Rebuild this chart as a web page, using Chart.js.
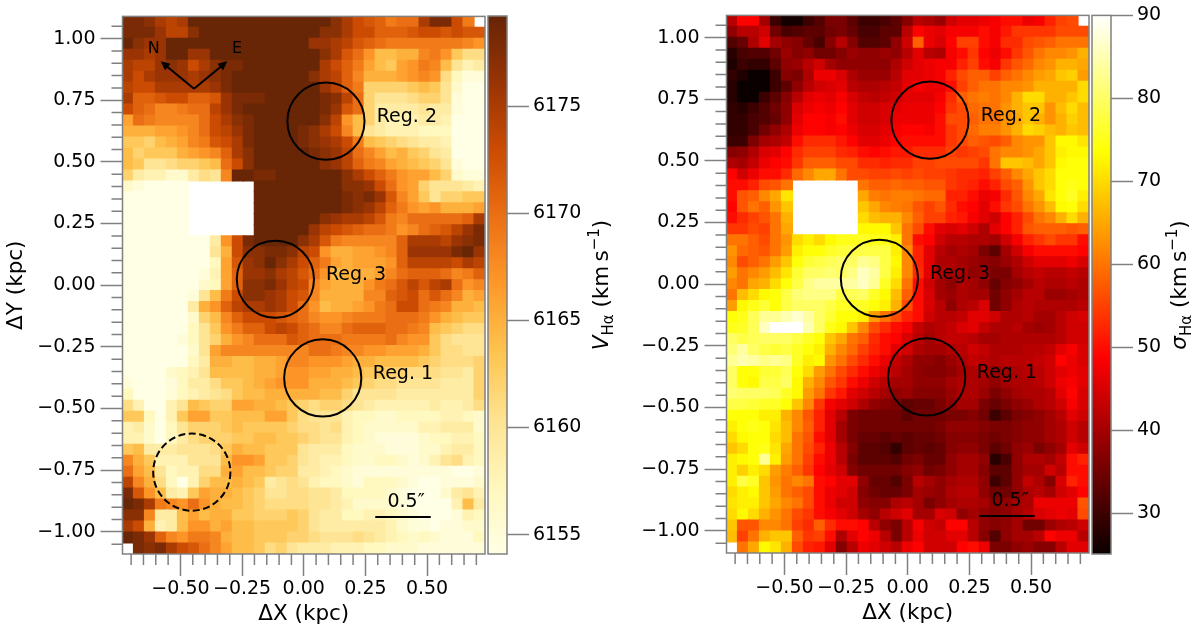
<!DOCTYPE html>
<html>
<head>
<meta charset="utf-8">
<title>Halpha velocity and dispersion maps</title>
<script src="https://cdn.jsdelivr.net/npm/chart.js@4"></script>
<style>
    html, body { margin: 0; padding: 0; background: white; overflow: hidden; }
    canvas { position: absolute; filter: blur(0.45px); }
</style>
</head>
<body>
<canvas id="mapVel" width="486" height="633" style="left:0;top:0"></canvas>
<canvas id="barVel" width="140" height="633" style="left:487px;top:0"></canvas>
<canvas id="mapSig" width="486" height="633" style="left:604px;top:-1px"></canvas>
<canvas id="barSig" width="109" height="633" style="left:1091px;top:0"></canvas>
<script>
const _ = null;

// km/s above 6150, one row per spaxel line, top to bottom
const velBase = 6150;
const velRows = [
[28,28,27,25,24,25,29,29,29,29,29,29,29,29,29,29,29,29,29,27,25,23,22,21,19,20,20,25,28,28,23,19,_],
[28,28,28,26,24,24,27,29,29,29,29,29,29,29,29,29,29,29,27,27,25,23,23,21,21,21,22,23,23,22,23,22,22],
[29,27,26,26,29,29,29,29,29,29,29,29,29,29,29,29,29,26,26,25,24,22,21,20,19,19,19,19,19,19,19,18,17],
[26,26,25,26,29,29,26,26,29,29,29,29,29,29,29,29,29,29,27,25,22,20,17,14,14,15,15,18,19,17,13,11,11],
[25,24,24,26,27,26,23,25,27,28,28,29,29,29,29,29,29,29,25,23,21,19,16,14,13,16,17,19,18,14,10,8,9],
[25,23,25,26,26,26,25,26,27,28,29,29,29,29,29,29,29,27,25,24,21,18,15,15,15,16,17,18,17,11,7,5,5],
[24,23,23,25,25,25,25,25,26,28,29,29,29,29,29,29,29,29,26,24,21,19,12,12,12,12,13,14,13,10,6,4,4],
[25,21,21,22,23,23,21,21,22,26,28,28,28,29,29,29,29,29,28,27,24,20,12,10,10,10,11,12,12,10,5,4,4],
[23,21,20,18,18,19,20,20,24,26,28,29,29,29,29,29,29,29,28,26,22,20,12,9,9,9,9,10,9,9,5,4,4],
[16,20,19,18,18,18,18,20,23,25,27,28,29,29,29,29,29,29,27,24,17,14,12,9,8,8,8,9,9,8,4,4,4],
[15,15,15,16,16,17,18,20,23,24,26,28,29,29,29,29,28,27,25,23,18,14,10,9,8,8,8,7,7,7,4,4,4],
[13,13,12,14,15,16,18,19,22,23,25,28,29,29,29,29,28,27,26,25,23,19,14,13,12,11,10,9,9,8,4,4,4],
[14,12,13,13,13,15,16,17,18,21,25,27,29,29,29,29,29,28,27,26,24,20,18,16,14,15,13,12,10,9,4,4,4],
[14,13,10,10,11,12,12,13,14,20,23,27,29,29,29,29,29,29,27,26,24,21,19,18,16,15,14,13,12,10,5,4,4],
[12,9,8,8,6,6,9,11,10,18,29,29,28,28,29,29,29,29,29,29,27,25,23,21,19,17,16,16,14,12,6,5,5],
[6,5,4,4,4,4,_,_,_,_,_,_,29,29,29,29,29,29,29,29,27,27,26,23,20,17,16,12,10,10,10,9,8],
[4,4,4,4,4,4,_,_,_,_,_,_,29,29,29,29,29,29,29,29,28,27,28,26,22,18,16,13,10,12,12,13,13],
[4,4,4,4,4,4,_,_,_,_,_,_,29,29,29,29,29,29,29,29,28,27,26,24,21,19,17,16,17,15,15,15,16],
[4,4,4,4,4,4,_,_,_,_,_,_,29,29,29,29,29,29,27,26,25,25,24,22,19,18,20,20,20,20,20,21,25],
[4,4,4,4,4,4,_,_,_,_,_,_,29,29,29,29,29,26,24,23,22,21,20,20,19,17,18,20,21,22,24,26,28],
[4,4,4,4,4,4,4,4,9,17,23,28,29,29,29,29,27,25,22,19,18,18,18,18,18,21,25,25,25,24,26,27,28],
[4,4,4,4,4,4,4,4,10,15,23,27,27,28,28,27,24,23,17,15,15,16,16,17,18,21,26,26,26,26,28,29,26],
[4,4,4,4,4,4,4,4,7,16,22,26,27,29,27,25,23,21,19,16,15,16,16,16,17,21,24,24,24,24,23,25,24],
[4,4,4,4,4,4,4,5,8,16,21,26,26,27,25,24,22,20,17,14,15,15,15,16,18,20,21,21,21,20,18,19,21],
[4,4,4,4,4,4,4,6,7,16,21,27,27,28,26,24,23,18,16,15,15,15,17,19,20,22,24,22,24,25,20,17,18],
[4,4,4,4,4,4,5,10,14,19,23,27,27,26,25,23,22,18,15,15,15,15,18,18,21,22,23,20,22,20,18,15,16],
[4,4,4,4,4,4,9,15,17,21,24,25,25,26,25,23,20,17,14,15,15,16,17,19,20,23,23,20,19,18,15,15,14],
[4,4,4,4,4,4,6,12,14,18,21,23,23,23,22,21,20,18,17,17,18,19,19,19,20,20,20,19,17,15,14,13,13],
[4,4,4,4,4,4,7,10,13,17,19,21,21,23,24,23,21,20,18,18,20,21,21,21,20,20,19,18,14,13,12,11,11],
[4,4,4,4,4,5,7,10,12,15,17,18,20,20,20,22,21,20,20,20,19,19,19,19,20,18,17,17,13,11,10,10,10],
[4,4,4,4,4,4,6,10,16,18,18,18,18,18,18,18,18,20,20,19,18,18,17,17,16,16,16,15,13,11,11,10,10],
[4,4,4,4,4,4,7,9,15,15,14,14,15,15,16,18,18,17,17,17,16,15,15,14,14,14,14,13,12,11,11,11,12],
[4,4,4,4,6,7,8,10,14,14,14,14,15,15,16,17,17,16,16,15,15,14,13,13,12,12,11,11,11,10,10,9,12],
[5,4,4,4,5,7,9,9,11,13,13,14,15,16,17,17,17,15,15,15,14,13,12,11,11,10,10,10,10,9,9,9,12],
[7,4,4,4,5,7,8,9,10,11,13,14,14,15,15,15,15,15,14,14,12,10,10,10,10,9,9,9,9,9,9,9,12],
[11,8,4,4,8,10,14,13,12,12,16,16,15,15,14,13,12,11,12,12,11,10,9,8,8,8,8,8,9,8,8,9,11],
[13,13,7,4,8,13,16,16,13,13,14,14,14,16,16,13,11,10,10,10,8,7,7,6,6,7,7,7,7,8,8,7,6],
[8,9,6,4,7,10,12,12,12,13,14,13,13,13,13,12,11,11,10,11,8,7,6,6,6,6,6,8,8,9,9,9,6],
[8,8,6,4,7,9,11,12,12,12,13,13,14,14,13,13,12,11,10,10,8,7,6,5,5,5,5,6,7,7,8,8,7],
[13,14,9,9,9,10,10,10,11,13,15,14,14,13,13,13,10,9,9,9,7,6,6,6,5,5,5,6,6,8,9,9,7],
[18,15,13,8,8,8,10,10,10,14,17,17,16,13,13,12,10,9,8,8,7,6,6,7,7,6,5,6,8,10,11,8,7],
[20,16,14,10,7,8,8,11,11,15,16,14,14,13,12,12,9,9,8,7,6,5,5,5,5,5,5,5,5,5,4,4,5],
[24,18,15,11,7,4,8,12,14,14,15,14,13,9,10,11,10,8,7,7,6,5,7,7,7,6,5,4,4,5,5,5,6],
[28,22,17,14,9,8,13,16,15,15,14,13,12,10,10,11,11,10,10,9,7,7,7,7,6,5,4,4,4,6,9,10,8],
[29,28,25,19,18,17,20,17,15,14,14,13,12,11,11,11,11,10,10,9,8,6,6,6,6,5,4,4,4,4,8,14,9],
[27,27,18,9,9,14,16,14,15,15,13,13,12,12,12,13,12,10,9,9,7,7,8,8,7,6,5,4,4,4,5,8,7],
[25,23,15,8,9,14,17,17,15,16,14,14,13,13,13,13,12,10,9,9,9,9,9,9,8,6,5,5,4,5,5,6,6],
[29,28,26,21,18,17,19,19,18,15,14,14,13,13,13,12,12,11,10,10,10,11,10,9,8,7,6,7,6,5,5,5,7],
[_,28,27,28,25,23,22,20,18,16,14,14,13,11,12,10,9,9,9,8,8,8,7,7,6,6,6,5,5,5,5,5,5]
];

const sigRows = [
[42,49,49,40,30,26,26,30,32,36,36,33,30,30,31,33,37,42,41,39,44,46,46,47,48,50,50,47,48,52,55,56,_],
[38,42,42,44,35,31,32,33,33,35,36,34,31,31,33,33,42,49,47,46,48,48,48,50,48,51,54,54,54,54,56,56,56],
[32,34,41,46,40,38,37,34,31,37,42,37,32,32,33,38,44,58,47,45,49,55,55,50,48,53,53,56,57,58,60,60,60],
[28,31,32,32,35,39,37,38,35,35,37,39,38,38,39,38,42,46,42,41,48,50,54,49,47,50,54,57,60,62,62,63,66],
[27,30,29,29,33,38,39,42,44,40,38,38,38,38,38,41,44,46,47,48,48,52,55,50,48,54,57,59,62,63,66,66,65],
[29,27,25,25,30,37,36,41,47,47,45,41,39,39,39,42,46,46,47,48,52,56,58,58,55,58,60,62,64,65,68,69,64],
[28,25,25,25,30,33,38,42,44,45,46,42,41,41,42,43,46,48,47,47,50,55,58,60,60,62,62,63,66,66,66,66,70],
[28,25,25,30,33,37,42,46,47,46,48,45,43,42,43,44,46,46,46,48,53,58,60,61,60,62,66,70,70,66,66,68,70],
[29,28,30,32,35,38,45,47,48,47,49,46,44,44,45,46,47,47,47,49,54,56,59,60,60,63,66,68,68,63,67,70,67],
[29,29,31,32,34,38,46,49,49,48,50,46,44,44,45,47,47,47,47,50,56,56,58,60,60,63,65,68,66,63,66,69,67],
[29,29,31,35,38,41,47,49,49,48,49,47,45,45,46,48,49,49,48,50,54,56,59,61,61,63,66,70,69,67,66,68,67],
[30,30,36,40,41,43,50,53,53,53,51,49,46,46,47,49,50,50,50,50,54,56,58,57,56,58,62,63,63,68,73,73,71],
[37,38,41,45,46,49,53,55,55,55,53,52,50,49,50,51,51,53,53,53,55,54,55,56,60,62,62,63,65,68,72,73,73],
[41,40,43,47,49,50,54,58,58,58,56,56,53,53,52,53,53,55,55,56,56,56,56,54,60,68,68,67,65,68,73,74,74],
[49,44,47,50,50,53,59,62,65,65,60,56,56,55,55,56,55,56,55,55,54,53,53,52,55,58,62,65,68,70,74,74,74],
[50,50,52,56,57,60,_,_,_,_,_,_,60,58,58,59,58,58,57,57,54,53,52,50,52,56,58,63,68,70,74,75,74],
[50,57,58,62,65,71,_,_,_,_,_,_,65,61,60,61,61,60,59,59,52,52,50,47,48,53,57,62,65,71,74,76,72],
[49,57,60,58,63,68,_,_,_,_,_,_,68,65,62,61,60,57,55,57,53,50,49,46,50,54,56,60,63,67,73,74,70],
[50,53,55,57,60,66,_,_,_,_,_,_,70,67,66,66,62,58,55,55,52,51,48,46,44,49,52,56,60,62,66,70,66],
[54,54,56,55,60,65,_,_,_,_,_,_,73,73,73,68,60,56,50,46,45,46,44,41,46,49,52,57,58,58,58,57,58],
[60,60,58,56,60,63,70,72,70,73,75,75,76,75,75,72,60,50,49,44,42,42,41,41,40,44,48,52,54,56,54,54,50],
[63,59,58,57,60,64,72,74,74,76,77,78,78,78,78,72,62,52,46,42,40,41,40,36,33,40,44,48,50,50,50,50,49],
[62,56,58,60,64,68,74,77,78,79,80,80,83,82,78,73,62,52,46,41,41,40,39,38,37,39,41,44,46,46,46,47,45],
[64,60,62,64,67,71,77,80,80,81,80,82,86,84,78,72,62,53,46,42,40,41,38,39,36,36,40,42,43,42,42,43,42],
[62,60,65,66,70,74,78,82,84,84,84,84,86,83,76,70,60,50,44,40,38,41,40,38,34,37,38,40,42,41,41,42,41],
[60,67,70,73,74,78,81,82,82,82,78,79,80,76,73,67,58,50,45,40,39,41,40,40,35,38,40,42,42,39,39,40,41],
[64,73,75,77,74,78,80,80,80,78,76,76,76,74,72,66,56,50,45,42,38,41,42,45,35,38,41,42,41,41,41,41,42],
[74,75,79,83,83,85,87,84,80,77,74,74,72,64,60,56,52,50,44,42,42,43,46,46,44,41,41,42,40,40,42,44,45],
[75,76,79,86,90,90,90,85,80,75,73,68,62,56,53,50,48,43,41,42,43,45,46,43,41,41,42,40,39,40,42,44,44],
[80,78,79,80,80,80,78,76,74,68,65,60,58,53,50,49,45,42,40,42,43,43,42,40,40,41,41,41,41,41,42,44,44],
[81,84,80,78,77,78,76,74,72,66,62,59,55,52,50,46,44,41,40,40,41,42,44,43,41,41,41,42,42,43,46,48,45],
[83,85,84,82,83,82,76,72,73,63,60,56,53,50,47,43,41,38,38,37,39,41,43,42,41,42,42,42,43,44,49,47,45],
[80,74,74,77,77,79,74,70,64,60,56,53,50,47,45,42,40,38,37,37,38,40,41,41,39,40,41,42,42,44,46,47,46],
[80,74,73,78,78,80,73,66,62,57,54,50,47,44,42,40,40,38,38,38,40,41,41,40,38,40,41,41,42,44,47,48,46],
[81,80,80,80,79,76,73,64,60,54,51,46,44,42,40,38,39,37,37,37,39,41,41,39,36,38,40,41,41,42,46,49,45],
[78,78,77,76,76,74,68,62,54,48,46,44,41,38,37,36,33,34,34,36,38,40,40,36,34,36,38,39,41,42,44,48,45],
[74,74,74,72,72,66,62,57,52,46,42,36,35,35,35,35,33,35,35,35,36,36,37,35,30,33,36,37,38,40,42,46,44],
[72,74,75,74,71,67,62,58,52,46,40,36,35,35,35,35,35,35,35,36,38,38,38,37,36,36,37,38,38,40,41,44,42],
[70,73,74,74,70,67,60,57,50,46,40,36,34,34,33,34,33,34,34,35,37,37,37,36,35,36,37,38,38,40,41,44,42],
[68,70,74,75,71,65,60,56,52,47,42,37,33,33,32,29,33,34,33,34,37,38,38,36,33,35,38,39,36,38,40,46,44],
[72,73,74,83,72,64,60,55,50,47,42,36,33,33,33,32,35,36,34,34,38,40,40,38,28,31,38,41,41,40,43,50,52],
[72,69,72,70,64,61,58,54,49,46,44,37,35,35,35,35,37,38,35,36,38,40,40,37,33,33,38,40,40,44,42,50,50],
[72,78,76,68,63,60,62,60,50,49,46,46,38,34,34,32,36,42,40,38,40,41,41,38,30,33,38,43,41,37,45,52,50],
[70,72,73,68,64,60,58,56,50,47,46,44,37,35,34,34,36,40,39,38,41,42,42,38,35,35,38,41,42,40,44,46,49],
[71,72,72,68,65,62,60,56,50,47,44,44,38,37,37,41,42,40,36,38,40,41,41,40,37,38,40,41,47,47,47,47,57],
[70,73,70,66,63,60,56,54,50,48,46,44,40,38,42,44,46,40,40,45,44,38,40,38,37,38,40,42,45,46,47,46,56],
[68,57,57,62,62,60,55,53,58,53,50,50,49,42,38,36,42,48,44,43,49,49,42,38,37,38,40,35,35,39,41,42,44],
[67,55,60,66,68,68,58,54,55,50,41,46,49,47,42,36,42,47,44,44,46,46,42,37,32,38,40,40,42,49,47,47,42],
[_,60,65,73,71,66,56,52,51,46,37,42,47,46,44,42,47,49,44,44,44,49,50,47,36,36,38,39,37,37,42,46,46]
];

const xRange = [-0.735, 0.735];
const yRange = [-1.09, 1.09];
const xTicks = [-0.7,-0.65,-0.6,-0.55,-0.5,-0.45,-0.4,-0.35,-0.3,-0.25,-0.2,-0.15,-0.1,-0.05,0,0.05,0.1,0.15,0.2,0.25,0.3,0.35,0.4,0.45,0.5,0.55,0.6,0.65,0.7];
const yTicks = [-1.05,-1,-0.95,-0.9,-0.85,-0.8,-0.75,-0.7,-0.65,-0.6,-0.55,-0.5,-0.45,-0.4,-0.35,-0.3,-0.25,-0.2,-0.15,-0.1,-0.05,0,0.05,0.1,0.15,0.2,0.25,0.3,0.35,0.4,0.45,0.5,0.55,0.6,0.65,0.7,0.75,0.8,0.85,0.9,0.95,1,1.05];

const velLimits = [6154.1, 6179.2];
const sigLimits = [25.1, 90];
const velBarTicks = [6155, 6160, 6165, 6170, 6175];
const sigBarTicks = [30, 40, 50, 60, 70, 80, 90];

// colormap stops: [position, r, g, b]
const ylOrBr = [
    [0, 255, 255, 229], [0.125, 255, 247, 188], [0.25, 254, 227, 145],
    [0.375, 254, 196, 79], [0.5, 254, 153, 41], [0.625, 236, 112, 20],
    [0.75, 204, 76, 2], [0.875, 153, 52, 4], [1, 102, 37, 6]
];
const hot = [
    [0, 11, 0, 0], [0.365, 255, 0, 0], [0.746, 255, 255, 0], [1, 255, 255, 255]
];

const regions = [
    { name: "Reg. 2", x: 0.09, y: 0.665, labelX: 0.296, labelY: 0.68 },
    { name: "Reg. 3", x: -0.115, y: 0.024, labelX: 0.09, labelY: 0.04 },
    { name: "Reg. 1", x: 0.077, y: -0.376, labelX: 0.28, labelY: -0.36 }
];
const circleRadius = 0.1565;
const dashedCircle = { x: -0.454, y: -0.758 };
const scaleBar = { from: 0.29, to: 0.515, y: -0.94, label: "0.5″", labelX: 0.415, labelY: -0.88 };
const compass = {
    x: -0.445, y: 0.797,
    north: { x: -0.58, y: 0.908, labelX: -0.608, labelY: 0.96 },
    east: { x: -0.31, y: 0.908, labelX: -0.27, labelY: 0.96 }
};

const frameColor = "#808080";
const fontName = '"DejaVu Sans"';
Chart.defaults.font.family = fontName;
Chart.defaults.color = "#000";

function colorAt(stops, t) {
    t = Math.min(1, Math.max(0, t));
    for (let i = 1; i < stops.length; i++) {
        if (t <= stops[i][0]) {
            const a = stops[i - 1], b = stops[i];
            const f = (t - a[0]) / (b[0] - a[0]);
            const mix = (k) => Math.round(a[k] + (b[k] - a[k]) * f);
            return `rgb(${mix(1)},${mix(2)},${mix(3)})`;
        }
    }
    return "white";
}

function buildCells(rows, base) {
    const cols = rows[0].length;
    const cellW = (xRange[1] - xRange[0]) / cols;
    const cellH = (yRange[1] - yRange[0]) / rows.length;
    const cells = [];
    rows.forEach((row, r) => {
        row.forEach((val, c) => {
            if (val === null) return;
            cells.push({
                x: xRange[0] + (c + 0.5) * cellW,
                y: yRange[1] - (r + 0.5) * cellH,
                v: base + val
            });
        });
    });
    return { cells, cellW };
}

function tickLabel(value) {
    return value.toFixed(2).replace("-", "\u2212");
}

function setTicks(values) {
    return (scale) => {
        scale.ticks = values.map((v) => ({
            value: v,
            major: Math.abs(v * 4 - Math.round(v * 4)) < 1e-6
        }));
    };
}

const frame = {
    id: "frame",
    afterDraw(chart) {
        const { ctx, chartArea: a } = chart;
        ctx.save();
        ctx.strokeStyle = frameColor;
        ctx.lineWidth = 1.5;
        ctx.strokeRect(a.left, a.top, a.right - a.left, a.bottom - a.top);
        ctx.restore();
    }
};

// the library tick length is one value per scale, so short ticks go here
const minorTicks = {
    id: "minorTicks",
    afterDraw(chart) {
        const { ctx, chartArea: a, scales } = chart;
        ctx.save();
        ctx.strokeStyle = frameColor;
        ctx.lineWidth = 1.5;
        ctx.beginPath();
        scales.x.ticks.filter((t) => !t.major).forEach((t) => {
            const px = scales.x.getPixelForValue(t.value);
            ctx.moveTo(px, a.bottom);
            ctx.lineTo(px, a.bottom + 11);
        });
        scales.y.ticks.filter((t) => !t.major).forEach((t) => {
            const py = scales.y.getPixelForValue(t.value);
            ctx.moveTo(a.left, py);
            ctx.lineTo(a.left - 11, py);
        });
        ctx.stroke();
        ctx.restore();
    }
};

function drawCircle(chart, spot, dashed) {
    const { ctx, scales } = chart;
    const r = Math.abs(scales.x.getPixelForValue(circleRadius) - scales.x.getPixelForValue(0));
    ctx.beginPath();
    ctx.setLineDash(dashed ? [7, 3.5] : []);
    ctx.arc(scales.x.getPixelForValue(spot.x), scales.y.getPixelForValue(spot.y), r, 0, Math.PI * 2);
    ctx.stroke();
    ctx.setLineDash([]);
}

function drawArrow(chart, tip) {
    const { ctx, scales } = chart;
    const x0 = scales.x.getPixelForValue(compass.x), y0 = scales.y.getPixelForValue(compass.y);
    const x1 = scales.x.getPixelForValue(tip.x), y1 = scales.y.getPixelForValue(tip.y);
    const ang = Math.atan2(y1 - y0, x1 - x0);
    ctx.beginPath();
    ctx.moveTo(x0, y0);
    ctx.lineTo(x1 - 5 * Math.cos(ang), y1 - 5 * Math.sin(ang));
    ctx.stroke();
    ctx.beginPath();
    ctx.moveTo(x1, y1);
    ctx.lineTo(x1 - 10 * Math.cos(ang - 0.45), y1 - 10 * Math.sin(ang - 0.45));
    ctx.lineTo(x1 - 10 * Math.cos(ang + 0.45), y1 - 10 * Math.sin(ang + 0.45));
    ctx.closePath();
    ctx.fill();
}

function makeNotes(withExtras) {
    return {
        id: "notes",
        afterDatasetsDraw(chart) {
            const { ctx, scales } = chart;
            ctx.save();
            ctx.strokeStyle = "#000";
            ctx.fillStyle = "#000";
            ctx.lineWidth = 2;
            ctx.textBaseline = "middle";
            ctx.font = `19px ${fontName}`;
            regions.forEach((reg) => {
                drawCircle(chart, reg, false);
                ctx.textAlign = "left";
                ctx.fillText(reg.name, scales.x.getPixelForValue(reg.labelX), scales.y.getPixelForValue(reg.labelY));
            });
            ctx.beginPath();
            ctx.moveTo(scales.x.getPixelForValue(scaleBar.from), scales.y.getPixelForValue(scaleBar.y));
            ctx.lineTo(scales.x.getPixelForValue(scaleBar.to), scales.y.getPixelForValue(scaleBar.y));
            ctx.stroke();
            ctx.textAlign = "center";
            ctx.fillText(scaleBar.label, scales.x.getPixelForValue(scaleBar.labelX), scales.y.getPixelForValue(scaleBar.labelY));
            if (withExtras) {
                drawCircle(chart, dashedCircle, true);
                drawArrow(chart, compass.north);
                drawArrow(chart, compass.east);
                ctx.font = `16px ${fontName}`;
                ctx.fillText("N", scales.x.getPixelForValue(compass.north.labelX), scales.y.getPixelForValue(compass.north.labelY));
                ctx.fillText("E", scales.x.getPixelForValue(compass.east.labelX), scales.y.getPixelForValue(compass.east.labelY));
            }
            ctx.restore();
        }
    };
}

function renderMap(canvasId, rows, base, stops, limits, showYTitle, extras) {
    const { cells, cellW } = buildCells(rows, base);
    new Chart(document.getElementById(canvasId), {
        type: "scatter",
        data: {
            datasets: [{
                data: cells,
                pointStyle: "rect",
                pointBorderWidth: 0,
                pointRadius: (c) => {
                    const s = c.chart.scales.x;
                    const side = Math.abs(s.getPixelForValue(cellW) - s.getPixelForValue(0));
                    // square side is radius * sqrt(2); extra overlap hides seams
                    return side * Math.SQRT1_2 + 0.8;
                },
                backgroundColor: (c) => colorAt(stops, (c.raw.v - limits[0]) / (limits[1] - limits[0]))
            }]
        },
        options: {
            responsive: false,
            animation: false,
            events: [],
            layout: { padding: { top: 16, right: 1, left: 0, bottom: 0 } },
            plugins: { legend: { display: false }, tooltip: { enabled: false } },
            scales: {
                x: {
                    min: xRange[0],
                    max: xRange[1],
                    afterBuildTicks: setTicks(xTicks),
                    afterFit: (s) => { s.height = 79; },
                    grid: {
                        drawOnChartArea: false,
                        tickLength: 22,
                        tickWidth: 1.5,
                        tickColor: (c) => (c.tick && c.tick.major ? frameColor : "transparent")
                    },
                    border: { display: false },
                    ticks: {
                        autoSkip: false,
                        maxRotation: 0,
                        padding: 2,
                        font: { size: 19 },
                        callback: (v, i, ticks) => (ticks[i].major ? tickLabel(v) : "")
                    },
                    title: { display: true, text: "ΔX (kpc)", font: { size: 21.5 }, padding: { top: 0, bottom: 6 } }
                },
                y: {
                    min: yRange[0],
                    max: yRange[1],
                    afterBuildTicks: setTicks(yTicks),
                    afterFit: (s) => { s.width = 122.5; },
                    grid: {
                        drawOnChartArea: false,
                        tickLength: 22,
                        tickWidth: 1.5,
                        tickColor: (c) => (c.tick && c.tick.major ? frameColor : "transparent")
                    },
                    border: { display: false },
                    ticks: {
                        autoSkip: false,
                        padding: 5,
                        font: { size: 19 },
                        callback: (v, i, ticks) => (ticks[i].major ? tickLabel(v) : "")
                    },
                    title: { display: showYTitle, text: "ΔY (kpc)", font: { size: 21.5 }, padding: { top: 4, bottom: 0 } }
                }
            }
        },
        plugins: [frame, minorTicks, makeNotes(extras)]
    });
}

function barTitle(parts, baselineX, centerY) {
    return {
        id: "barTitle",
        afterDraw(chart) {
            const { ctx } = chart;
            ctx.save();
            ctx.fillStyle = "#000";
            ctx.textBaseline = "alphabetic";
            ctx.textAlign = "left";
            const fontOf = (p) => `${p.italic ? "italic " : ""}${p.size}px ${fontName}`;
            let total = 0;
            parts.forEach((p) => {
                ctx.font = fontOf(p);
                total += ctx.measureText(p.text).width;
            });
            ctx.translate(baselineX, centerY);
            ctx.rotate(-Math.PI / 2);
            let pos = -total / 2;
            parts.forEach((p) => {
                ctx.font = fontOf(p);
                ctx.fillText(p.text, pos, p.shift);
                pos += ctx.measureText(p.text).width;
            });
            ctx.restore();
        }
    };
}

function renderBar(canvasId, limits, stops, tickValues, width, top, titleParts, baselineX) {
    new Chart(document.getElementById(canvasId), {
        type: "bar",
        data: {
            labels: [""],
            datasets: [{
                data: [limits],
                categoryPercentage: 1,
                barPercentage: 1,
                borderWidth: 0,
                backgroundColor: (c) => {
                    const area = c.chart.chartArea;
                    if (!area) return "white";
                    const g = c.chart.ctx.createLinearGradient(0, area.bottom, 0, area.top);
                    stops.forEach((s) => g.addColorStop(s[0], `rgb(${s[1]},${s[2]},${s[3]})`));
                    return g;
                }
            }]
        },
        options: {
            responsive: false,
            animation: false,
            events: [],
            layout: { padding: { top: top, left: 1, right: 0, bottom: 79 } },
            plugins: { legend: { display: false }, tooltip: { enabled: false } },
            scales: {
                x: { display: false },
                y: {
                    position: "right",
                    min: limits[0],
                    max: limits[1],
                    afterBuildTicks: (s) => { s.ticks = tickValues.map((v) => ({ value: v })); },
                    afterFit: (s) => { s.width = width - 20; },
                    grid: { drawOnChartArea: false, tickLength: 22, tickWidth: 1.5, tickColor: frameColor },
                    border: { display: false },
                    ticks: { autoSkip: false, padding: 4, font: { size: 19 }, callback: (v) => String(v) }
                }
            }
        },
        plugins: [frame, barTitle(titleParts, baselineX, 285)]
    });
}

function titleParts(symbol) {
    return [
        { text: symbol, size: 21.5, italic: true, shift: 0 },
        { text: "Hα", size: 15, italic: false, shift: 5 },
        { text: " (km\u2009s", size: 21.5, italic: false, shift: 0 },
        { text: "\u22121", size: 15, italic: false, shift: -9 },
        { text: ")", size: 21.5, italic: false, shift: 0 }
    ];
}

renderMap("mapVel", velRows, velBase, ylOrBr, velLimits, true, true);
renderMap("mapSig", sigRows, 0, hot, sigLimits, false, false);
renderBar("barVel", velLimits, ylOrBr, velBarTicks, 140, 16, titleParts("V"), 121);
renderBar("barSig", sigLimits, hot, sigBarTicks, 109, 14, titleParts("σ"), 95);
</script>
</body>
</html>
